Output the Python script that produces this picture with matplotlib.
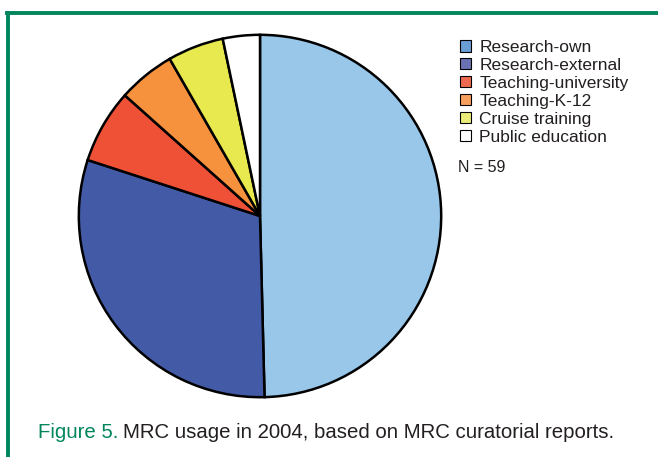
import matplotlib.pyplot as plt
from matplotlib.patches import Patch
from matplotlib.lines import Line2D

plt.rcParams['font.family'] = ['Liberation Sans', 'DejaVu Sans']

# MRC usage categories and share (percent)
categories = ["Research-own", "Research-external", "Teaching-university",
              "Teaching-K-12", "Cruise training", "Public education"]
shares = [49.6, 30.4, 6.6, 5.1, 5.0, 3.3]
pie_colors = ["#98c7ea", "#435ba7", "#ef5136", "#f6913d", "#e8e84f", "#ffffff"]
legend_colors = ["#6c9ed6", "#6a72b4", "#ef6a50", "#f6a060", "#ecec7a", "#ffffff"]
n_label = "N = 59"

green = "#00855c"

fig = plt.figure(figsize=(6.58, 4.57), dpi=100)

# green frame (top and left rules only)
fig.add_artist(Line2D([7/658, 1.0], [1 - 13/457, 1 - 13/457], color=green, lw=2.8))
fig.add_artist(Line2D([8/658, 8/658], [0, 1 - 13/457], color=green, lw=2.8))

ax = fig.add_axes([77/658, (457 - 399)/457, 366/658, 366/457])
ax.pie(shares, colors=pie_colors, startangle=90, counterclock=False, radius=1,
       wedgeprops=dict(edgecolor="black", linewidth=1.8))
ax.set_xlim(-1.01, 1.01)
ax.set_ylim(-1.01, 1.01)
ax.set_aspect("equal")
ax.axis("off")

handles = [Patch(facecolor=c, edgecolor="black", linewidth=0.8) for c in legend_colors]
fig.legend(handles, categories, loc="upper left", bbox_to_anchor=(460/658, 1 - 40/457),
           frameon=False, fontsize=12.5, handlelength=0.62, handleheight=0.62,
           handletextpad=0.5, labelspacing=0.17, borderpad=0, borderaxespad=0,
           labelcolor="#231f20")

fig.text(458/658, 1 - 168/457, n_label, fontsize=11.5, va="center", ha="left", color="#231f20")

# caption
cap1 = fig.text(38/658, 1 - 432/457, "Figure 5.", fontsize=14.7, color=green, va="center", ha="left")
fig.canvas.draw()
bb = cap1.get_window_extent()
fig.text((bb.x1 + 5)/658, 1 - 432/457, "MRC usage in 2004, based on MRC curatorial reports.",
         fontsize=14.7, color="#231f20", va="center", ha="left")

fig.savefig("out.png", dpi=100)
